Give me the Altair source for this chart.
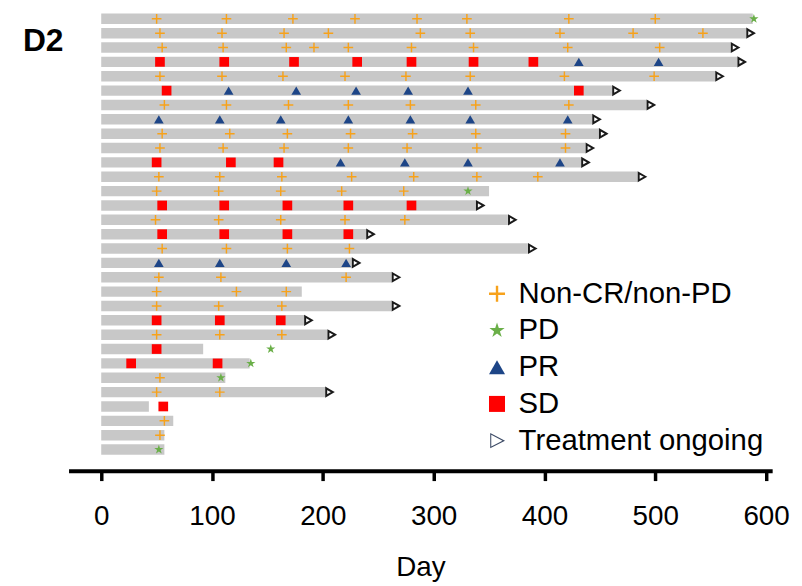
import altair as alt
import pandas as pd

# ---------------- data ----------------
statuses = ["Non-CR/non-PD", "PD", "PR", "SD", "Treatment ongoing"]

patients = list(range(1, 32))
bar_end = [588, 582, 568, 574, 554, 461, 492, 443, 449, 437, 433, 484, 350, 338, 367,
           239, 385, 226, 262, 181, 262, 183, 204, 92, 134, 112, 202, 43, 65, 57, 57]
ongoing = [0, 1, 1, 1, 1, 1, 1, 1, 1, 1, 1, 1, 0, 1, 1,
           1, 1, 1, 1, 0, 1, 1, 1, 0, 0, 0, 1, 0, 0, 0, 0]

noncr_days = {
    1: [50, 113, 173, 229, 285, 330, 422, 500],
    2: [53, 109, 165, 205, 288, 333, 414, 480, 543],
    3: [55, 110, 167, 192, 223, 280, 336, 421, 504],
    5: [53, 109, 164, 220, 275, 333, 418, 499],
    7: [57, 113, 169, 223, 279, 338, 422],
    9: [55, 116, 168, 225, 281, 338, 419],
    10: [53, 110, 165, 223, 276, 339, 419],
    12: [52, 107, 163, 226, 282, 339, 394],
    13: [50, 106, 162, 217, 273],
    15: [49, 106, 162, 220, 274],
    17: [55, 113, 168, 224],
    19: [52, 108, 221],
    20: [50, 122, 167],
    21: [50, 106, 163],
    23: [50, 107, 163],
    26: [53],
    27: [50, 107],
    29: [57],
    30: [53],
}
pd_days = {
    1: [589],
    13: [331],
    24: [153],
    25: [135],
    26: [108],
    31: [52],
}
pr_days = {
    4: [431, 503],
    6: [115, 176, 230, 277, 331],
    8: [52, 107, 162, 223, 279, 333, 421],
    11: [216, 274, 331, 414],
    18: [52, 107, 167, 221],
}
sd_days = {
    4: [53, 111, 174, 231, 280, 336, 390],
    6: [59, 431],
    11: [50, 117, 160],
    14: [55, 111, 168, 223, 280],
    16: [55, 111, 168, 223],
    22: [50, 107, 162],
    24: [50],
    25: [27, 105],
    28: [56],
}
axis_ticks = [0, 100, 200, 300, 400, 500, 600]

# ---------------- tables ----------------
bars_df = pd.DataFrame({"row": patients, "start": 0, "end": bar_end})

rows = []
for status, table in zip(statuses[:4], [noncr_days, pd_days, pr_days, sd_days]):
    for r, days in table.items():
        for d in days:
            rows.append({"row": r, "day": d, "status": status})
events_df = pd.DataFrame(rows)
events_df["kind"] = events_df["status"]

arrows_df = pd.DataFrame(
    [{"row": r, "day": e} for r, e, o in zip(patients, bar_end, ongoing) if o]
)

# ---------------- style ----------------
FONT = "Liberation Sans"
GRAY = "#c8c8c8"
ORANGE = "#f7a21b"
GREEN = "#6aaf48"
NAVY = "#1d4587"
RED = "#ff0000"
SLATE = "#3d4b66"
DARK = "#1a1a1a"

PLUS = ("M-1,-0.15L-0.15,-0.15L-0.15,-1L0.15,-1L0.15,-0.15L1,-0.15L1,0.15"
        "L0.15,0.15L0.15,1L-0.15,1L-0.15,0.15L-1,0.15Z")
STAR = ("M0,-1L0.2245,-0.309L0.951,-0.309L0.363,0.118L0.588,0.809L0,0.382"
        "L-0.588,0.809L-0.363,0.118L-0.951,-0.309L-0.2245,-0.309Z")
OPEN_TRI = ("M-0.85,-0.95L1,0L-0.85,0.95Z"
            "M-0.72,0.74L0.68,0L-0.72,-0.74Z")

x_scale = alt.Scale(domain=[-29.5, 605.5], nice=False, zero=False)
y_scale = alt.Scale(domain=[0.3986, 32.47], reverse=True, nice=False, zero=False)

shape_scale = alt.Scale(domain=statuses, range=[PLUS, STAR, "triangle-up", "square", OPEN_TRI])
color_scale = alt.Scale(domain=statuses, range=[ORANGE, GREEN, NAVY, RED, SLATE])
size_scale = alt.Scale(domain=statuses[:4], range=[95, 95, 50, 50])

legend = alt.Legend(
    title=None, orient="none", legendX=417, legendY=271,
    symbolSize=260, labelLimit=0,
    labelFont=FONT, labelFontSize=29.5, labelColor="black",
    labelOffset=7, rowPadding=6,
)

bars = alt.Chart(bars_df).mark_rule(strokeWidth=10.5, color=GRAY).encode(
    x=alt.X(
        "start:Q", scale=x_scale, title="Day",
        axis=alt.Axis(
            values=axis_ticks, format="d", grid=False,
            domainColor="black", domainWidth=4,
            tickColor="black", tickWidth=3.5, tickSize=10,
            labelFont=FONT, labelFontSize=28, labelColor="black", labelPadding=22,
            titleFont=FONT, titleFontSize=28, titleFontWeight="normal",
            titleColor="black", titlePadding=24,
        ),
    ),
    x2="end:Q",
    y=alt.Y("row:Q", scale=y_scale, axis=None),
)

events = alt.Chart(events_df).mark_point(filled=True, opacity=1).encode(
    x=alt.X("day:Q", scale=x_scale),
    y=alt.Y("row:Q", scale=y_scale),
    shape=alt.Shape("status:N", scale=shape_scale, legend=legend),
    color=alt.Color("status:N", scale=color_scale, legend=legend),
    size=alt.Size("kind:N", scale=size_scale, legend=None),
)

arrows = alt.Chart(arrows_df).mark_point(
    shape="triangle-right", filled=False, stroke=DARK, strokeWidth=2,
    size=60, opacity=1, xOffset=4.5,
).encode(
    x=alt.X("day:Q", scale=x_scale),
    y=alt.Y("row:Q", scale=y_scale),
)

chart = alt.layer(bars, events, arrows).properties(
    width=709,
    height=464,
    padding={"left": 61, "top": 0, "right": 22, "bottom": 110},
    autosize=alt.AutoSizeParams(type="none"),
    title=alt.TitleParams(
        text="D2", anchor="start", frame="group", orient="top",
        font=FONT, fontSize=32, fontWeight="bold", color="black",
        baseline="top", dx=-46, dy=48, offset=0,
    ),
).configure_view(stroke=None)

chart.save("out.html", embed_options={"renderer": "svg", "actions": False})
